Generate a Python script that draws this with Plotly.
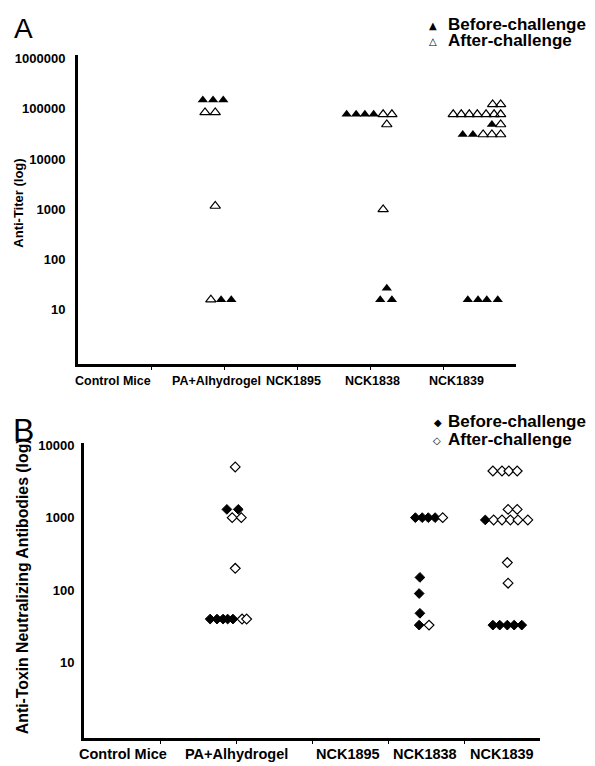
import plotly.graph_objects as go

# ---------------- data ----------------
groups = ["Control Mice", "PA+Alhydrogel", "NCK1895", "NCK1838", "NCK1839"]
series_names = ["Before-challenge", "After-challenge"]

# Panel A: Anti-Titer (log)  -- x = group position (with jitter), y = titer
a_before_x = [1.71, 1.85, 1.99, 1.96, 2.10,
              3.68, 3.81, 3.93, 4.05, 4.23, 4.14, 4.30,
              5.67, 5.27, 5.41, 5.34, 5.48, 5.60, 5.75]
a_before_y = [150000, 150000, 150000, 16, 16,
              78000, 78000, 78000, 78000, 27, 16, 16,
              49000, 31000, 31000, 16, 16, 16, 16]
a_after_x = [1.74, 1.88, 1.88, 1.82,
             4.18, 4.30, 4.23, 4.18,
             5.68, 5.79, 5.14, 5.25, 5.36, 5.47, 5.59, 5.70, 5.79,
             5.79, 5.55, 5.67, 5.79]
a_after_y = [85000, 85000, 1170, 16,
             78000, 78000, 49000, 1000,
             123000, 123000, 78000, 78000, 78000, 78000, 78000, 78000, 78000,
             49000, 31000, 31000, 31000]

# Panel B: Anti-Toxin Neutralizing Antibodies (log)
b_before_x = [1.88, 2.03, 1.66, 1.75, 1.83, 1.89, 1.96,
              4.36, 4.45, 4.53, 4.62, 4.42, 4.41, 4.42, 4.41,
              5.28, 5.38, 5.47, 5.57, 5.66, 5.76]
b_before_y = [1300, 1300, 40, 40, 40, 40, 40,
              1000, 1000, 1000, 1000, 150, 90, 48, 33,
              930, 33, 33, 33, 33, 33]
b_after_x = [1.99, 1.95, 2.07, 1.99, 2.08, 2.14,
             4.72, 4.54,
             5.38, 5.50, 5.59, 5.70, 5.58, 5.70,
             5.39, 5.50, 5.61, 5.71, 5.84, 5.57, 5.58]
b_after_y = [5000, 1000, 1000, 200, 40, 40,
             1000, 33,
             4400, 4400, 4400, 4400, 1300, 1300,
             930, 930, 930, 930, 930, 240, 125]

a_tickvals = [10, 100, 1000, 10000, 100000, 1000000]
a_ticktext = ["10", "100", "1000", "10000", "100000", "1000000"]
b_tickvals = [10, 100, 1000, 10000]
b_ticktext = ["10", "100", "1000", "10000"]

# ---------------- figure ----------------
W, H = 595, 766
FONT = "Liberation Sans, Arial, sans-serif"

fig = go.Figure()

tri_size = 9
dia_size = 7.5

fig.add_trace(go.Scatter(x=a_before_x, y=a_before_y, mode="markers", name=series_names[0],
                         marker=dict(symbol="triangle-up", size=tri_size, color="black",
                                     line=dict(width=0)),
                         xaxis="x", yaxis="y", showlegend=False))
fig.add_trace(go.Scatter(x=a_after_x, y=a_after_y, mode="markers", name=series_names[1],
                         marker=dict(symbol="triangle-up-open", size=tri_size, color="black",
                                     line=dict(width=1.2, color="black")),
                         xaxis="x", yaxis="y", showlegend=False))
fig.add_trace(go.Scatter(x=b_before_x, y=b_before_y, mode="markers", name=series_names[0],
                         marker=dict(symbol="diamond", size=dia_size, color="black",
                                     line=dict(width=1, color="black")),
                         xaxis="x2", yaxis="y2", showlegend=False))
fig.add_trace(go.Scatter(x=b_after_x, y=b_after_y, mode="markers", name=series_names[1],
                         marker=dict(symbol="diamond", size=dia_size, color="white",
                                     line=dict(width=1.2, color="black")),
                         xaxis="x2", yaxis="y2", showlegend=False))

def px_x(p):
    return p / W

def px_y(p):
    return 1 - p / H

tickfont = dict(family=FONT, size=13, color="black", weight="bold")

common_x = dict(range=[0, 6], showgrid=False, zeroline=False, showline=True,
                linecolor="black", linewidth=3, ticks="outside", ticklen=3,
                tickwidth=1, tickcolor="black", tickvals=[1, 2, 3, 4, 5],
                showticklabels=False, fixedrange=True)

fig.update_layout(
    width=W, height=H,
    margin=dict(l=0, r=0, t=0, b=0),
    paper_bgcolor="white", plot_bgcolor="white",
    showlegend=False,
    xaxis=dict(domain=[px_x(78), px_x(516)], anchor="y", **common_x),
    yaxis=dict(type="log", range=[-0.07, 6.07], domain=[px_y(361), px_y(50.5)],
               anchor="x", showgrid=False, zeroline=False, showline=True,
               linecolor="black", linewidth=3, ticks="", tickvals=a_tickvals,
               ticktext=a_ticktext, tickfont=tickfont, ticklabelstandoff=7),
    xaxis2=dict(domain=[px_x(84), px_x(540)], anchor="y2", **common_x),
    yaxis2=dict(type="log", range=[-0.04, 4.03], domain=[px_y(738), px_y(440.8)],
                anchor="x2", showgrid=False, zeroline=False, showline=True,
                linecolor="black", linewidth=3, ticks="", tickvals=b_tickvals,
                ticktext=b_ticktext, tickfont=tickfont, ticklabelstandoff=4),
)

ann = []
# category labels
label_pos_a = [0.48, 1.9, 2.95, 4.03, 5.19]
label_pos_b = [0.51, 2.0, 3.47, 4.49, 5.5]
for g, xa, xb in zip(groups, label_pos_a, label_pos_b):
    ann.append(dict(text=g, x=xa, xref="x", y=px_y(378), yref="paper", showarrow=False,
                    xanchor="center", yanchor="middle",
                    font=dict(family=FONT, size=12.5, color="black", weight="bold")))
    ann.append(dict(text=g, x=xb, xref="x2", y=px_y(754), yref="paper", showarrow=False,
                    xanchor="center", yanchor="middle",
                    font=dict(family=FONT, size=14.5, color="black", weight="bold")))

# panel letters
ann.append(dict(text="A", x=px_x(12), y=px_y(24), xref="paper", yref="paper", showarrow=False,
                xanchor="left", yanchor="middle", font=dict(family=FONT, size=28, color="black")))
ann.append(dict(text="B", x=px_x(11), y=px_y(428), xref="paper", yref="paper", showarrow=False,
                xanchor="left", yanchor="middle", font=dict(family=FONT, size=32, color="black")))

# y-axis titles
ann.append(dict(text="Anti-Titer (log)", x=px_x(19), y=px_y(200), xref="paper", yref="paper",
                showarrow=False, textangle=-90, xanchor="center", yanchor="middle",
                font=dict(family=FONT, size=13, color="black", weight="bold")))
ann.append(dict(text="Anti-Toxin Neutralizing Antibodies (log)", x=px_x(22), y=px_y(585),
                xref="paper", yref="paper", showarrow=False, textangle=-90,
                xanchor="center", yanchor="middle",
                font=dict(family=FONT, size=15.8, color="black", weight="bold")))

# legends (symbol + label)
leg_font = dict(family=FONT, size=17, color="black", weight="bold")
legend_rows = [
    ("\u25B2", series_names[0], 433, 446, 20),
    ("\u25B3", series_names[1], 433, 446, 36),
    ("\u25C6", series_names[0], 438, 446, 419),
    ("\u25C7", series_names[1], 437, 446, 437),
]
for sym, name, sx, tx, ly in legend_rows:
    ann.append(dict(text=sym, x=px_x(sx), y=px_y(ly + 1), xref="paper", yref="paper",
                    showarrow=False, xanchor="center", yanchor="middle",
                    font=dict(family="DejaVu Sans", size=10, color="black")))
    ann.append(dict(text=name, x=px_x(tx), y=px_y(ly), xref="paper", yref="paper",
                    showarrow=False, xanchor="left", yanchor="middle", font=leg_font))

fig.update_layout(annotations=ann)

fig.write_html("out.html", config={"displayModeBar": False},
               post_script="document.body.style.margin='0';")
